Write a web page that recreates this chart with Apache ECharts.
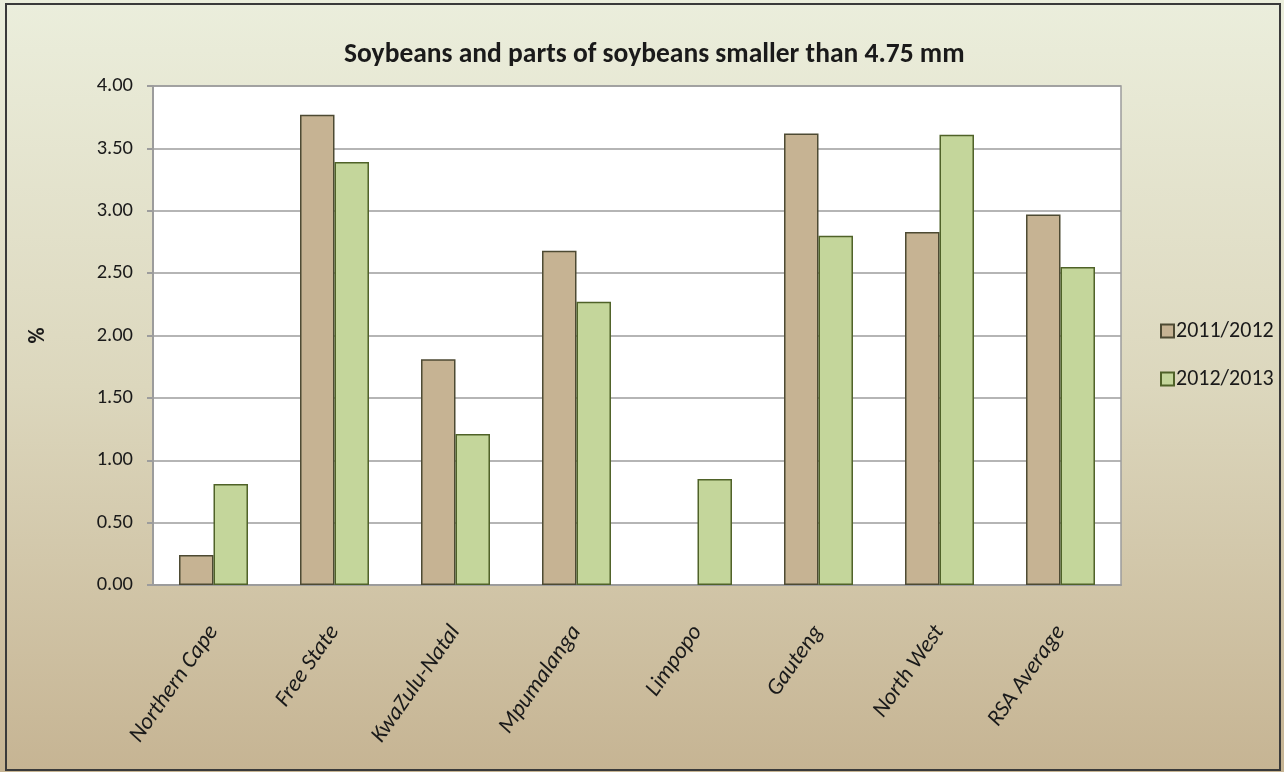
<!DOCTYPE html>
<html>
<head>
<meta charset="utf-8">
<script src="https://cdn.jsdelivr.net/npm/echarts@6/dist/echarts.min.js"></script>
<style>html,body{margin:0;padding:0;background:#fff}#c{width:1284px;height:772px}</style>
</head>
<body>
<div id="c"></div>
<script>
var categories = ['Northern Cape','Free State','KwaZulu-Natal','Mpumalanga','Limpopo','Gauteng','North West','RSA Average'];
var s2011 = [0.24, 3.77, 1.81, 2.68, null, 3.62, 2.83, 2.97];
var s2012 = [0.81, 3.39, 1.21, 2.27, 0.85, 2.80, 3.61, 2.55];
var seriesNames = ['2011/2012','2012/2013'];
var titleText = 'Soybeans and parts of soybeans smaller than 4.75 mm';
var FONT = 'Carlito, Lato, sans-serif';

var chart = echarts.init(document.getElementById('c'));
chart.setOption({
  animation: false,
  backgroundColor: new echarts.graphic.LinearGradient(0,0,0,1,[
    {offset:0,color:'#ebeedc'},{offset:0.5,color:'#dcd7bd'},{offset:1,color:'#c6b493'}]),
  title: {
    text: titleText, left: 339, top: 36,
    textStyle: {fontFamily: FONT, fontSize: 27.5, fontWeight: 'bold', color: '#1a1a1a'}
  },
  legend: {
    orient: 'vertical', left: 1155, top: 315, itemGap: 26,
    itemWidth: 13, itemHeight: 13, icon: 'rect',
    textStyle: {fontFamily: FONT, fontSize: 22, color: '#1a1a1a', padding:[0,0,0,-3]},
    data: seriesNames
  },
  grid: {left: 153, right: 163, top: 86, bottom: 187, show: true, backgroundColor: '#ffffff', borderColor: '#9c9c9c', borderWidth: 1.5},
  xAxis: {
    type: 'category', data: categories,
    axisLine: {lineStyle: {color: '#9c9c9c', width: 2}},
    axisTick: {show: false},
    axisLabel: {rotate: 55, margin: 43, fontFamily: FONT, fontSize: 23, fontStyle: 'italic', color: '#1a1a1a', interval: 0}
  },
  yAxis: {
    type: 'value', min: 0, max: 4, interval: 0.5,
    name: '%', nameLocation: 'middle', nameGap: 104,
    nameTextStyle: {fontFamily: FONT, fontSize: 22, fontWeight: 'bold', color: '#1a1a1a'},
    axisLine: {show: true, lineStyle: {color: '#9c9c9c', width: 2}},
    axisTick: {show: true, length: 6, lineStyle: {color: '#9c9c9c', width: 2}},
    splitLine: {lineStyle: {color: '#9c9c9c', width: 1.5}},
    axisLabel: {formatter: function(v){return v.toFixed(2);}, margin: 20, fontFamily: FONT, fontSize: 20.5, color: '#1a1a1a'}
  },
  series: [
    {name: seriesNames[0], type: 'bar', data: s2011, barGap: '0%', barCategoryGap: '43%',
     itemStyle: {color: '#c6b393', borderColor: '#4d4a33', borderWidth: 1.5}},
    {name: seriesNames[1], type: 'bar', data: s2012, barGap: '0%', barCategoryGap: '43%',
     itemStyle: {color: '#c4d69b', borderColor: '#4f6228', borderWidth: 1.5}}
  ],
  graphic: [
    {type: 'rect', shape: {x: 6, y: 4, width: 1274, height: 766}, style: {fill: 'none', stroke: '#3a3a3a', lineWidth: 2}, silent: true}
  ]
});
</script>
</body>
</html>
